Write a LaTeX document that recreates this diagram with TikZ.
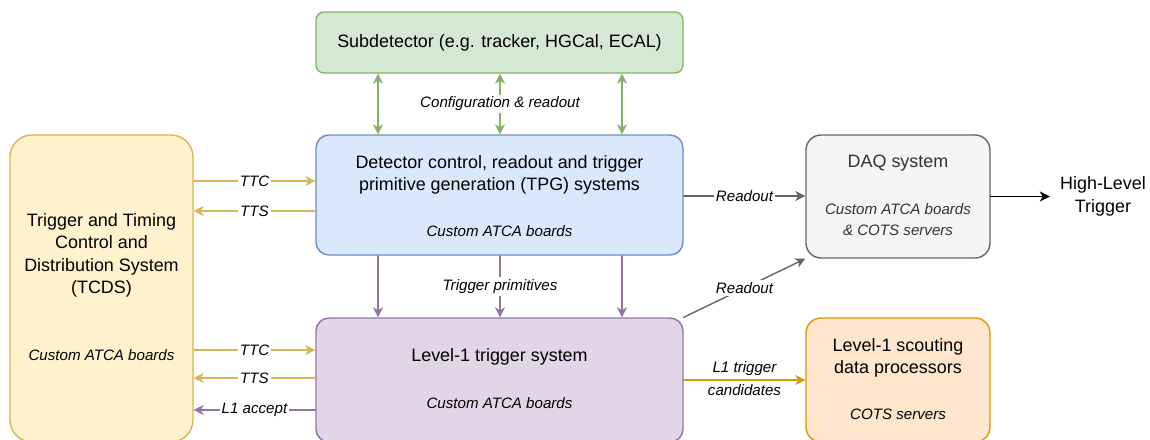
\documentclass[tikz,border=0pt]{standalone}
\usepackage{fontspec}
\setmainfont{Liberation Sans}
\usetikzlibrary{arrows.meta}

% drawio-like palette
\definecolor{grnfill}{HTML}{D5E8D4}
\definecolor{grnline}{HTML}{82B366}
\definecolor{bluefill}{HTML}{DAE8FC}
\definecolor{blueline}{HTML}{6C8EBF}
\definecolor{purfill}{HTML}{E1D5E7}
\definecolor{purline}{HTML}{9673A6}
\definecolor{yelfill}{HTML}{FFF2CC}
\definecolor{yelline}{HTML}{D6B656}
\definecolor{grayfill}{HTML}{F5F5F5}
\definecolor{grayline}{HTML}{666666}
\definecolor{graytext}{HTML}{333333}
\definecolor{orafill}{HTML}{FFE6CC}
\definecolor{oraline}{HTML}{D79B00}

\begin{document}
\begin{tikzpicture}[x=0.2mm, y=-0.2mm, line cap=round, line join=round,
  box/.style={draw, line width=0.8pt, inner sep=0pt},
  title/.style={font=\fontsize{10.2}{12.8}\selectfont, align=center, inner sep=0pt},
  sub/.style={font=\fontsize{8.6}{12}\selectfont\itshape, align=center, inner sep=0pt},
  lbl/.style={font=\fontsize{8.6}{10}\selectfont\itshape, text=black, fill=white, inner sep=1.2pt},
  tip/.tip={Stealth[length=2mm, width=2mm, inset=0.6mm]},
  link/.style={line width=0.8pt, -tip},
  both/.style={line width=0.8pt, tip-tip}]

  % Frame
  \useasboundingbox (0,0) rectangle (1150,439);

  % Boxes
  \node[box, fill=grnfill, draw=grnline, rounded corners=1.6mm,
    minimum width=73.4mm, minimum height=12.2mm] (sub) at (499.5,42.5) {};
  \node[box, fill=bluefill, draw=blueline, rounded corners=2.6mm,
    minimum width=73.4mm, minimum height=24mm] (det) at (499.5,195) {};
  \node[box, fill=purfill, draw=purline, rounded corners=2.6mm,
    minimum width=73.4mm, minimum height=24.8mm] (lone) at (499.5,380) {};
  \node[box, fill=yelfill, draw=yelline, rounded corners=4.4mm,
    minimum width=36.6mm, minimum height=61.4mm] (tcds) at (101.5,288.5) {};
  \node[box, fill=grayfill, draw=grayline, rounded corners=3mm,
    minimum width=36.8mm, minimum height=24.6mm] (daq) at (898,196.5) {};
  \node[box, fill=orafill, draw=oraline, rounded corners=3mm,
    minimum width=36.8mm, minimum height=24.8mm] (scout) at (898,380) {};

  % Box texts
  \node[title] (subT) at (sub) {Subdetector (e.g. tracker, HGCal, ECAL)};
  \node[title] (detT) at (499.5,175) {Detector control, readout and trigger\\primitive generation (TPG) systems};
  \node[sub] (detS) at (499.5,231) {Custom ATCA boards};
  \node[title] (loneT) at (499.5,357) {Level-1 trigger system};
  \node[sub] (loneS) at (499.5,403) {Custom ATCA boards};
  \node[title] (tcdsT) at (101.5,255.5) {Trigger and Timing\\Control and\\Distribution System\\(TCDS)};
  \node[sub] (tcdsS) at (101.5,355) {Custom ATCA boards};
  \node[title, text=graytext] (daqT) at (898,163) {DAQ system};
  \node[sub, text=graytext] (daqS) at (898,219.5) {Custom ATCA boards\\\& COTS servers};
  \node[title] (scoutT) at (898,358) {Level-1 scouting\\data processors};
  \node[sub] (scoutS) at (898,414) {COTS servers};
  \node[title, inner sep=2mm] (hlt) at (1103,196.5) {High-Level\\Trigger};

  % Configuration & readout (subdetector <-> detector)
  \draw[both, grnline] (sub.south -| 378,0) -- (det.north -| 378,0);
  \draw[both, grnline] (sub.south -| 500,0) -- node[lbl] (cfg) {Configuration \& readout} (det.north -| 500,0);
  \draw[both, grnline] (sub.south -| 622,0) -- (det.north -| 622,0);

  % Trigger primitives (detector -> L1)
  \draw[link, purline] (det.south -| 378,0) -- (lone.north -| 378,0);
  \draw[link, purline] (det.south -| 500,0) -- node[lbl] (tp) {Trigger primitives} (lone.north -| 500,0);
  \draw[link, purline] (det.south -| 622,0) -- (lone.north -| 622,0);

  % TCDS links
  \draw[link, yelline] (tcds.east |- 0,181) -- node[lbl] (ttcA) {TTC} (det.west |- 0,181);
  \draw[link, yelline] (det.west |- 0,211) -- node[lbl] (ttsA) {TTS} (tcds.east |- 0,211);
  \draw[link, yelline] (tcds.east |- 0,350) -- node[lbl] (ttcB) {TTC} (lone.west |- 0,350);
  \draw[link, yelline] (lone.west |- 0,378) -- node[lbl] (ttsB) {TTS} (tcds.east |- 0,378);
  \draw[link, purline] (lone.west |- 0,410) -- node[lbl] (acc) {L1 accept} (tcds.east |- 0,410);

  % Readout to DAQ
  \draw[link, grayline] (det.east |- 0,196) -- node[lbl] (roA) {Readout} (daq.west |- 0,196);
  \draw[link, grayline] (lone.north east) -- node[lbl] (roB) {Readout} (daq.south west);

  % Scouting
  \draw[link, oraline] (lone.east |- 0,380) -- node[lbl, fill=none, above=0.4mm] (candA) {L1 trigger}
    node[lbl, fill=none, below=0.3mm] (candB) {candidates} (scout.west |- 0,380);

  % To HLT
  \draw[link, black] (daq.east) -- (hlt.west);
\end{tikzpicture}
\end{document}
